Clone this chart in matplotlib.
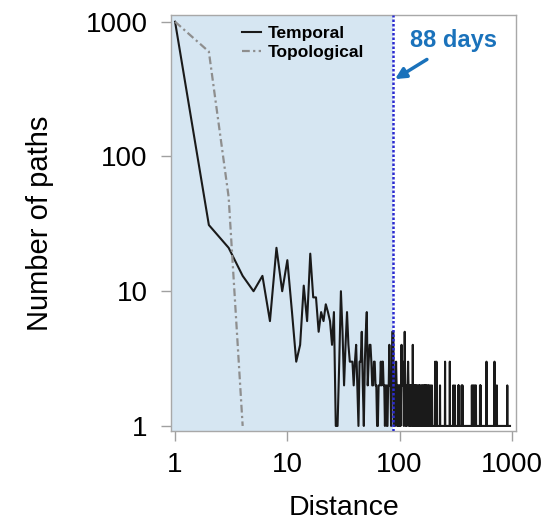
import numpy as np
import matplotlib
matplotlib.use("Agg")
import matplotlib.pyplot as plt
from matplotlib.ticker import NullLocator, FixedLocator

plt.rcParams['font.family'] = ['Liberation Sans', 'DejaVu Sans']

# temporal distance: counts for distances 1..91
near_counts = [1000, 31, 21, 13, 10, 13, 6, 21, 10, 17,
               7, 3, 4, 11, 6, 19, 9, 9, 5, 7,
               6, 8, 7, 6, 4, 7, 1, 1, 3, 10,
               5, 2, 4, 7, 4, 3, 3, 3, 2, 3,
               4, 2, 1, 3, 3, 5, 2, 1, 3, 5,
               7, 2, 3, 4, 4, 3, 2, 2, 3, 3,
               2, 2, 1, 1, 2, 2, 2, 3, 2, 3,
               3, 2, 2, 1, 2, 2, 1, 1, 2, 2,
               4, 2, 2, 1, 2, 5, 5, 5, 1, 2,
               1]
max_dist = 962
# beyond 91 most distances have a single path, except these
spike2 = [92, 94, 96, 98, 99, 101, 103, 105, 106, 108, 110, 112, 114, 115,
          117, 118, 120, 122, 123, 125, 127, 128, 129, 133, 135, 137, 139,
          141, 144, 147, 150, 152, 156, 159, 162, 165, 168, 170, 173, 176,
          180, 183, 188, 194, 229, 300, 311, 333, 337, 357, 363, 440, 452,
          465, 478, 520, 526, 735, 910]
spike3 = [93, 107, 119, 207, 213, 254, 280, 594, 700]
spike4 = [104, 131]
spike5 = [111]

# topological distance
topo_dist = [1, 2, 3, 4]
topo_counts = [1000, 600, 50, 1]

cutoff = 88

temporal_dist = np.arange(1, max_dist + 1)
temporal_counts = np.ones(max_dist)
temporal_counts[:len(near_counts)] = near_counts
for val, lst in [(2, spike2), (3, spike3), (4, spike4), (5, spike5)]:
    for d in lst:
        temporal_counts[d - 1] = val

fig = plt.figure(figsize=(5.59, 5.23), dpi=100)
ax = fig.add_axes([0.306, 0.176, 0.617, 0.795])
ax.set_xscale('log')
ax.set_yscale('log')
xmin, xmax = 0.921, 1087
ax.set_xlim(xmin, xmax)
ax.set_ylim(0.918, 1119)

ax.axvspan(xmin, cutoff, color='#d6e6f2', lw=0, zorder=0)

ax.plot(temporal_dist, temporal_counts, color='#1a1a1a', lw=1.5,
        label='Temporal', zorder=2)
ax.plot(topo_dist, topo_counts, color='#8e8e8e', lw=1.6,
        linestyle=(0, (3.5, 1.5, 1, 1.5)), label='Topological', zorder=3)
ax.axvline(cutoff, color='#2a2ad0', lw=1.8, linestyle=(0, (1, 0.8)), zorder=4)

ax.annotate('', xy=(91, 375), xytext=(175, 525),
            arrowprops=dict(arrowstyle='-|>', color='#1a72bb', lw=2.5,
                            mutation_scale=16, shrinkA=0, shrinkB=0))
ax.text(0.818, 0.94, '88 days', transform=ax.transAxes, ha='center',
        va='center', fontsize=17, fontweight='bold', color='#1a72bb')

leg = ax.legend(loc='upper left', bbox_to_anchor=(0.205, 0.975), frameon=False,
                prop={'size': 12.5, 'weight': 'bold'}, handlelength=1.1,
                handletextpad=0.4, borderpad=0, borderaxespad=0,
                labelspacing=0.25)

ax.xaxis.set_major_locator(FixedLocator([1, 10, 100, 1000]))
ax.yaxis.set_major_locator(FixedLocator([1, 10, 100, 1000]))
ax.xaxis.set_minor_locator(NullLocator())
ax.yaxis.set_minor_locator(NullLocator())
ax.set_xticklabels(['1', '10', '100', '1000'])
ax.set_yticklabels(['1', '10', '100', '1000'])
ax.tick_params(axis='both', length=7, width=1, color='#a0a0a0',
               labelsize=20)
ax.tick_params(axis='x', pad=8)
ax.tick_params(axis='y', pad=10)
for s in ax.spines.values():
    s.set_color('#a8a8a8')
    s.set_linewidth(1)

ax.set_xlabel('Distance', fontsize=20.5)
ax.set_ylabel('Number of paths', fontsize=21)
ax.xaxis.set_label_coords(0.5, -0.155)
ax.yaxis.set_label_coords(-0.34, 0.5)

fig.savefig('out.png', dpi=100)
